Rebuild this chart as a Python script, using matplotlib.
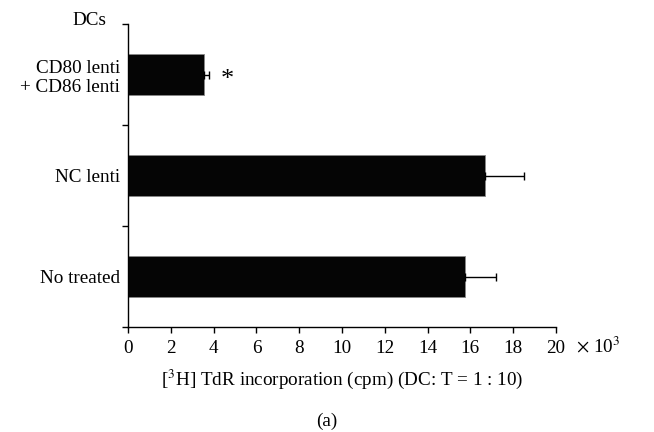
import matplotlib
matplotlib.use("Agg")
import matplotlib.pyplot as plt
import matplotlib.transforms as mtransforms
import numpy as np

plt.rcParams['font.family'] = ['Liberation Serif', 'DejaVu Serif']
plt.rcParams['mathtext.fontset'] = 'stix'

categories = ["CD80 lenti\n+ CD86 lenti", "NC lenti", "No treated"]
values = [3.55, 16.7, 15.77]
errors = [0.22, 1.8, 1.45]
xticks = [0, 2, 4, 6, 8, 10, 12, 14, 16, 18, 20]

FS = 13.8
fig = plt.figure(figsize=(6.54, 4.32), dpi=100)
ax = fig.add_axes([0.196, 0.243, 0.654, 0.701])

y = np.arange(len(categories))
ax.barh(y, values, height=0.41, color='#050505', edgecolor='#888888', linewidth=0.6,
        xerr=[np.zeros(len(errors)), errors],
        error_kw=dict(ecolor='black', elinewidth=1.0, capsize=3, capthick=1.0))

ax.set_ylim(2.5, -0.5)
ax.set_xlim(0, 20)
ax.set_yticks(y)
ax.set_yticklabels(categories, fontsize=FS, multialignment='right', linespacing=1.2)
ax.set_yticks(np.arange(-0.5, len(categories), 1.0), minor=True)
ax.tick_params(axis='y', which='major', length=0, pad=6)
ax.tick_params(axis='y', which='minor', length=4, width=1.0, direction='out')
ax.set_xticks(xticks)
ax.set_xticklabels([str(t) for t in xticks], fontsize=FS)
ax.tick_params(axis='x', length=4, width=1.0, direction='out', pad=5)

for s in ['top', 'right']:
    ax.spines[s].set_visible(False)
for s in ['left', 'bottom']:
    ax.spines[s].set_linewidth(1.0)

ax.text(values[0] + errors[0] + 0.85, 0.05, "*", fontsize=19, ha='center', va='center')

ax.set_xlabel(r"[$^{3}$H] TdR incorporation (cpm) (DC: T = 1 : 10)", fontsize=FS, labelpad=8)
ax.text(20.95, 2.5, r"$\times$ 10$^{3}$", fontsize=FS, ha='left', va='top',
        transform=ax.transData + mtransforms.ScaledTranslation(0, -9/100, fig.dpi_scale_trans))
ax.text(-0.09, 1.012, "DCs", transform=ax.transAxes, fontsize=FS, ha='center', va='center')
fig.text(0.5, 0.004, "(a)", fontsize=FS, ha='center', va='bottom')

fig.savefig("out.png", dpi=100)
